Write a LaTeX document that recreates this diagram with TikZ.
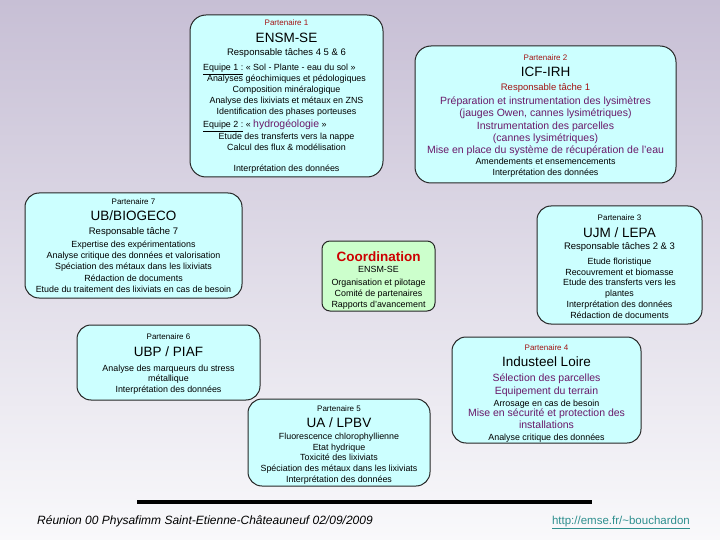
\documentclass[tikz,border=0pt]{standalone}
\usepackage{fontspec}
\setmainfont{Liberation Sans}
\definecolor{pred}{HTML}{A31515}
\definecolor{ppur}{HTML}{6A1A6A}
\definecolor{coordred}{HTML}{CC0000}
\definecolor{boxcyan}{HTML}{CCFFFF}
\definecolor{boxgreen}{HTML}{CCFFCC}
\definecolor{urlteal}{HTML}{2F8F8F}
\definecolor{bgtop}{HTML}{C7BFD5}
\definecolor{bgmid}{HTML}{E3E0EA}
\definecolor{bgbot}{HTML}{F9F9FB}
\newcommand{\mytx}[5]{\node[#1,anchor=base] (#2) at (#3,#4) {#5};}
\begin{document}
\begin{tikzpicture}[x=1pt,y=-1pt,
  pbox/.style={draw=black!85,line width=1pt,fill=boxcyan,rounded corners=16pt},
  cbox/.style={draw=black!85,line width=1pt,fill=boxgreen,rounded corners=8pt},
  lab/.style={font=\fontsize{8}{9}\selectfont,inner sep=0pt},
  ttl/.style={font=\fontsize{13.5}{15}\selectfont,inner sep=0pt},
  resp/.style={font=\fontsize{9.5}{11}\selectfont,inner sep=0pt},
  body/.style={font=\fontsize{8.9}{10}\selectfont,inner sep=0pt},
  pur/.style={font=\fontsize{10.5}{12}\selectfont,text=ppur,inner sep=0pt}]
\useasboundingbox (0,0) rectangle (720,540);
\shade[top color=bgtop, middle color=bgmid, bottom color=bgbot] (0,0) rectangle (720,540);
% ---------- boxes
\path[pbox] (190,15) rectangle (383,177); \coordinate (p1) at (286.5,96);
\path[pbox] (415,46) rectangle (676,183); \coordinate (p2) at (545.5,114);
\path[pbox,rounded corners=14pt] (25,193) rectangle (242,298); \coordinate (p7) at (133.5,245);
\path[pbox,rounded corners=14pt] (537,206) rectangle (702,324); \coordinate (p3) at (619.5,265);
\path[cbox] (322,241) rectangle (435,311); \coordinate (pc) at (378.5,276);
\path[pbox,rounded corners=14pt] (77,325) rectangle (260,400); \coordinate (p6) at (168.5,362);
\path[pbox,rounded corners=14pt] (452,337) rectangle (641,443); \coordinate (p4) at (546.5,390);
\path[pbox,rounded corners=14pt] (248,399) rectangle (430,486); \coordinate (p5) at (339,442);
% ---------- Partenaire 1
\mytx{lab,text=pred}{a1}{286.5}{26}{Partenaire 1}
\mytx{ttl}{a2}{286.5}{43}{ENSM-SE}
\mytx{resp}{a3}{286.5}{56}{Responsable tâches 4 5 \& 6}
\node[body,anchor=base west] (a4) at (203,70.5) {\underline{Equipe 1 :} « Sol - Plante - eau du sol »};
\mytx{body}{a5}{286.5}{81.5}{Analyses géochimiques et pédologiques}
\mytx{body}{a6}{286.5}{92.5}{Composition minéralogique}
\mytx{body}{a7}{286.5}{103.5}{Analyse des lixiviats et métaux en ZNS}
\mytx{body}{a8}{286.5}{114.5}{Identification des phases porteuses}
\node[body,anchor=base west] (a9) at (203,128) {\underline{Equipe 2 :} « {\color{ppur}\fontsize{10.5}{12}\selectfont hydrogéologie} »};
\mytx{body}{a10}{286.5}{139.5}{Etude des transferts vers la nappe}
\mytx{body}{a11}{286.5}{150.5}{Calcul des flux \& modélisation}
\mytx{body}{a12}{286.5}{171.5}{Interprétation des données}
% ---------- Partenaire 2
\mytx{lab,text=pred}{b1}{545.5}{61}{Partenaire 2}
\mytx{ttl}{b2}{545.5}{77}{ICF-IRH}
\mytx{resp,text=pred}{b3}{545.5}{90.5}{Responsable tâche 1}
\mytx{pur}{b4}{545.5}{105}{Préparation et instrumentation des lysimètres}
\mytx{pur}{b5}{545.5}{117}{(jauges Owen, cannes lysimétriques)}
\mytx{pur}{b6}{545.5}{129.5}{Instrumentation des parcelles}
\mytx{pur}{b7}{545.5}{141.5}{(cannes lysimétriques)}
\mytx{pur}{b8}{545.5}{153.5}{Mise en place du système de récupération de l'eau}
\mytx{body}{b9}{545.5}{164.5}{Amendements et ensemencements}
\mytx{body}{b10}{545.5}{175.5}{Interprétation des données}
% ---------- Partenaire 7
\mytx{lab}{c1}{133.5}{205}{Partenaire 7}
\mytx{ttl}{c2}{133.5}{221}{UB/BIOGECO}
\mytx{resp}{c3}{133.5}{234.5}{Responsable tâche 7}
\mytx{body}{c4}{133.5}{247.5}{Expertise des expérimentations}
\mytx{body}{c5}{133.5}{258.5}{Analyse critique des données et valorisation}
\mytx{body}{c6}{133.5}{269.5}{Spéciation des métaux dans les lixiviats}
\mytx{body}{c7}{133.5}{281.5}{Rédaction de documents}
\mytx{body}{c8}{133.5}{292.5}{Etude du traitement des lixiviats en cas de besoin}
% ---------- Partenaire 3
\mytx{lab}{d1}{619.5}{221}{Partenaire 3}
\mytx{ttl}{d2}{619.5}{237}{UJM / LEPA}
\mytx{resp}{d3}{619.5}{249.5}{Responsable tâches 2 \& 3}
\mytx{body}{d4}{619.5}{264.5}{Etude floristique}
\mytx{body}{d5}{619.5}{275.5}{Recouvrement et biomasse}
\mytx{body}{d6}{619.5}{285.5}{Etude des transferts vers les}
\mytx{body}{d7}{619.5}{296.5}{plantes}
\mytx{body}{d8}{619.5}{307.5}{Interprétation des données}
\mytx{body}{d9}{619.5}{318.5}{Rédaction de documents}
% ---------- Coordination
\node[anchor=base,inner sep=0pt,font=\fontsize{13.5}{15}\selectfont\bfseries,text=coordred] (e1) at (378.5,261) {Coordination};
\mytx{body}{e2}{378.5}{272.5}{ENSM-SE}
\mytx{body}{e3}{378.5}{285.5}{Organisation et pilotage}
\mytx{body}{e4}{378.5}{296.5}{Comité de partenaires}
\mytx{body}{e5}{378.5}{307.5}{Rapports d'avancement}
% ---------- Partenaire 6
\mytx{lab}{f1}{168.5}{339}{Partenaire 6}
\mytx{ttl}{f2}{168.5}{356}{UBP / PIAF}
\mytx{body}{f3}{168.5}{371.5}{Analyse des marqueurs du stress}
\mytx{body}{f4}{168.5}{381.5}{métallique}
\mytx{body}{f5}{168.5}{392.5}{Interprétation des données}
% ---------- Partenaire 4
\mytx{lab,text=pred}{g1}{546.5}{350}{Partenaire 4}
\mytx{ttl}{g2}{546.5}{366}{Industeel Loire}
\mytx{pur}{g3}{546.5}{381.5}{Sélection des parcelles}
\mytx{pur}{g4}{546.5}{394.5}{Equipement du terrain}
\mytx{body}{g5}{546.5}{406}{Arrosage en cas de besoin}
\mytx{pur}{g6}{546.5}{416.5}{Mise en sécurité et protection des}
\mytx{pur}{g7}{546.5}{428.5}{installations}
\mytx{body}{g8}{546.5}{440}{Analyse critique des données}
% ---------- Partenaire 5
\mytx{lab}{h1}{339}{411}{Partenaire 5}
\mytx{ttl}{h2}{339}{427}{UA / LPBV}
\mytx{body}{h3}{339}{439.5}{Fluorescence chlorophyllienne}
\mytx{body}{h4}{339}{450.5}{Etat hydrique}
\mytx{body}{h5}{339}{460.5}{Toxicité des lixiviats}
\mytx{body}{h6}{339}{471.5}{Spéciation des métaux dans les lixiviats}
\mytx{body}{h7}{339}{482.5}{Interprétation des données}
% ---------- footer
\coordinate (la) at (137,502); \coordinate (lb) at (592,502);
\draw[line width=4pt,black] (la) -- (lb);
\node[anchor=base west,inner sep=0pt,font=\fontsize{12}{14}\selectfont\itshape] (foot) at (37,524) {Réunion 00 Physafimm Saint-Etienne-Châteauneuf 02/09/2009};
\node[anchor=base east,inner sep=0pt,font=\fontsize{11.5}{14}\selectfont,text=urlteal] (url) at (690,524) {\underline{http://emse.fr/\textasciitilde bouchardon}};
\end{tikzpicture}
\end{document}
